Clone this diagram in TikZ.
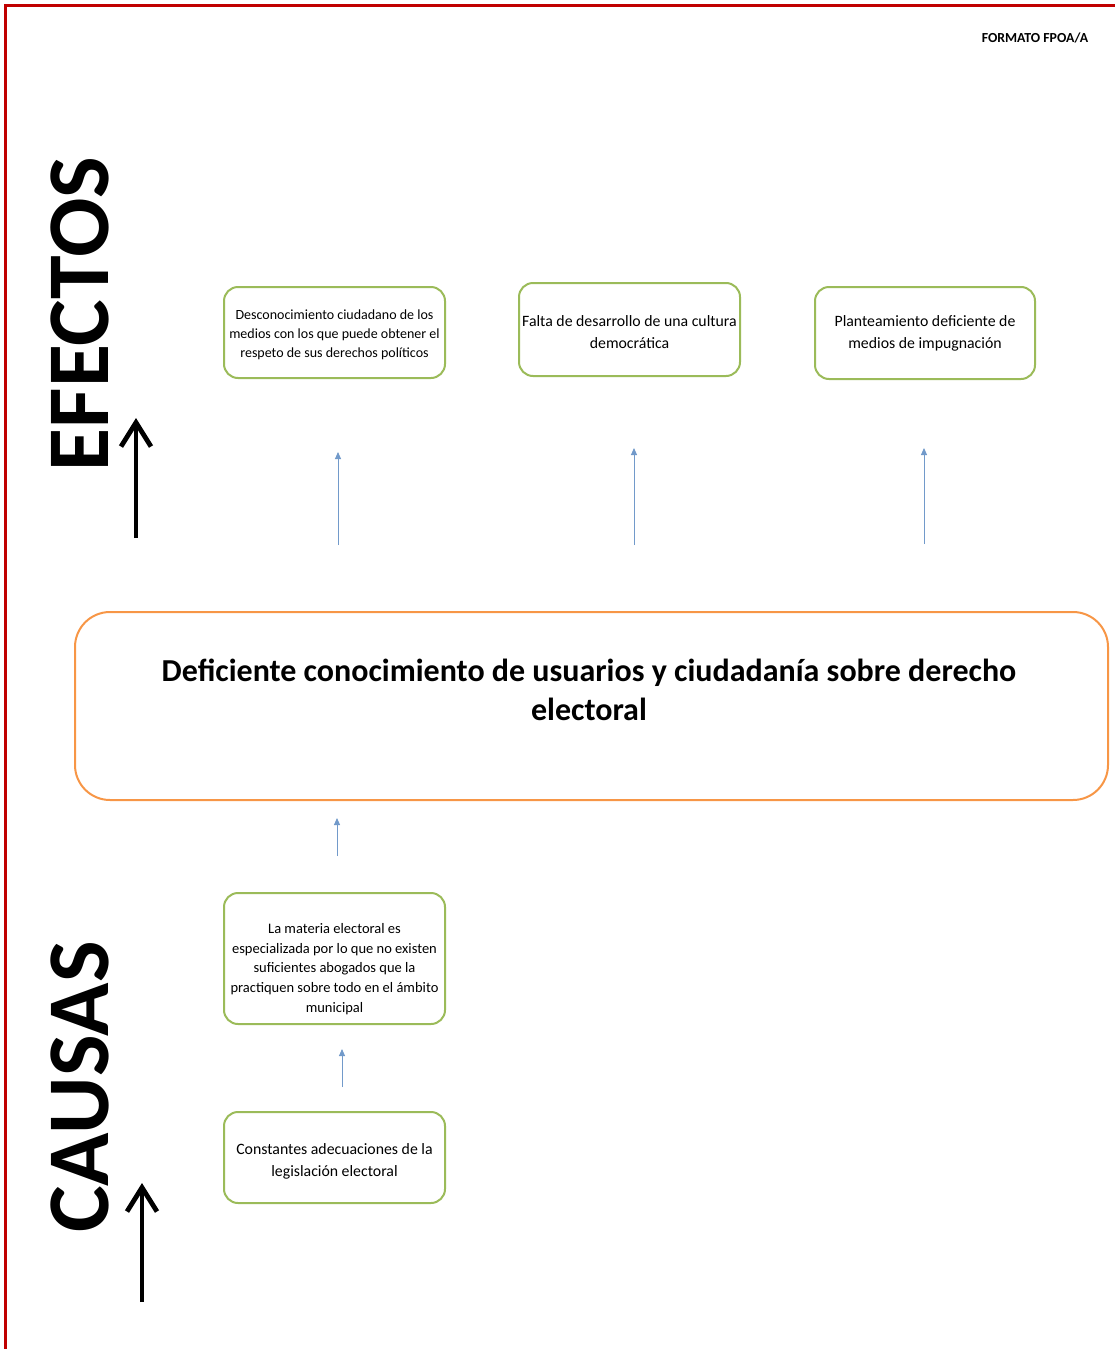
\documentclass[tikz,border=0pt]{standalone}
\usepackage{fontspec}
\setmainfont{Carlito}
\usetikzlibrary{arrows.meta}
\definecolor{redline}{HTML}{C00000}
\definecolor{greenb}{HTML}{9BBB59}
\definecolor{orangeb}{HTML}{F79646}
\definecolor{bluea}{HTML}{4F81BD}
\tikzset{
  gbox/.style={draw=greenb, line width=2pt, rounded corners=14pt, fill=white, inner sep=0pt},
  btext/.style={align=center, inner sep=0pt},
  barrow/.style={draw=bluea!80, line width=0.9pt, -{Triangle[length=7pt,width=6pt]}},
  karrow/.style={draw=black, line width=4.8pt, -{Straight Barb[length=24pt,width=30pt,line width=4.8pt]}},
  bigword/.style={font=\fontsize{88}{88}\selectfont\bfseries, rotate=90, inner sep=0pt}
}
\begin{document}
\begin{tikzpicture}[x=1pt,y=-1pt]
\useasboundingbox (0,0) rectangle (1115,1349);
% red frame (top and left)
\draw[redline, line width=3pt] (5.5,1349) -- (5.5,5) -- (1115,5);
% header
\node[font=\fontsize{13.8}{15}\selectfont\bfseries] (hdr) at (1035,38) {FORMATO FPOA/A};
% big words
\node[bigword] (efectos) at (80,314) {EFECTOS};
\node[bigword] (causas) at (80,1087) {CAUSAS};
% black arrows
\coordinate (ea0) at (136,538);
\coordinate (ea1) at (136,418);
\draw[karrow] (ea0) -- (ea1);
\coordinate (ca0) at (142,1302);
\coordinate (ca1) at (142,1183);
\draw[karrow] (ca0) -- (ca1);
% effect boxes
\node[gbox, minimum width=221pt, minimum height=91pt] (e1) at (334.5,332.5) {};
\node[btext, font=\fontsize{14}{19}\selectfont] (e1t) at (334.5,335)
  {Desconocimiento ciudadano de los\\medios con los que puede obtener el\\respeto de sus derechos políticos};
\node[gbox, minimum width=221pt, minimum height=93pt] (e2) at (629.5,329.5) {};
\node[btext, font=\fontsize{15.8}{22}\selectfont] (e2t) at (629.5,332)
  {Falta de desarrollo de una cultura\\democrática};
\node[gbox, minimum width=220pt, minimum height=92pt] (e3) at (925,333) {};
\node[btext, font=\fontsize{15.8}{22}\selectfont] (e3t) at (925,333)
  {Planteamiento deficiente de\\medios de impugnación};
% blue arrows to effects
\coordinate (b1) at (338,545);
\coordinate (b1t) at (338,452);
\draw[barrow] (b1) -- (b1t);
\coordinate (b2) at (634,545);
\coordinate (b2t) at (634,448);
\draw[barrow] (b2) -- (b2t);
\coordinate (b3) at (924,544);
\coordinate (b3t) at (924,448);
\draw[barrow] (b3) -- (b3t);
% central problem
\node[draw=orangeb, line width=2pt, rounded corners=35pt, minimum width=1033pt, minimum height=188pt] (p) at (591.5,706) {};
\node[font=\fontsize{32}{39}\selectfont\bfseries, align=center] (pt) at (589,690)
  {Deficiente conocimiento de usuarios y ciudadanía sobre derecho\\electoral};
% causes
\coordinate (c1) at (337,856);
\coordinate (c1t) at (337,818);
\draw[barrow] (c1) -- (c1t);
\node[gbox, minimum width=221pt, minimum height=131pt] (k1) at (334.5,958.5) {};
\node[btext, font=\fontsize{14.5}{19.75}\selectfont] (k1t) at (334.5,969)
  {La materia electoral es\\especializada por lo que no existen\\suficientes abogados que la\\practiquen sobre todo en el ámbito\\municipal};
\coordinate (c2) at (342,1087);
\coordinate (c2t) at (342,1049);
\draw[barrow] (c2) -- (c2t);
\node[gbox, minimum width=221pt, minimum height=91pt] (k2) at (334.5,1157.5) {};
\node[btext, font=\fontsize{15.8}{22}\selectfont] (k2t) at (334.5,1161)
  {Constantes adecuaciones de la\\legislación electoral};
\end{tikzpicture}
\end{document}
